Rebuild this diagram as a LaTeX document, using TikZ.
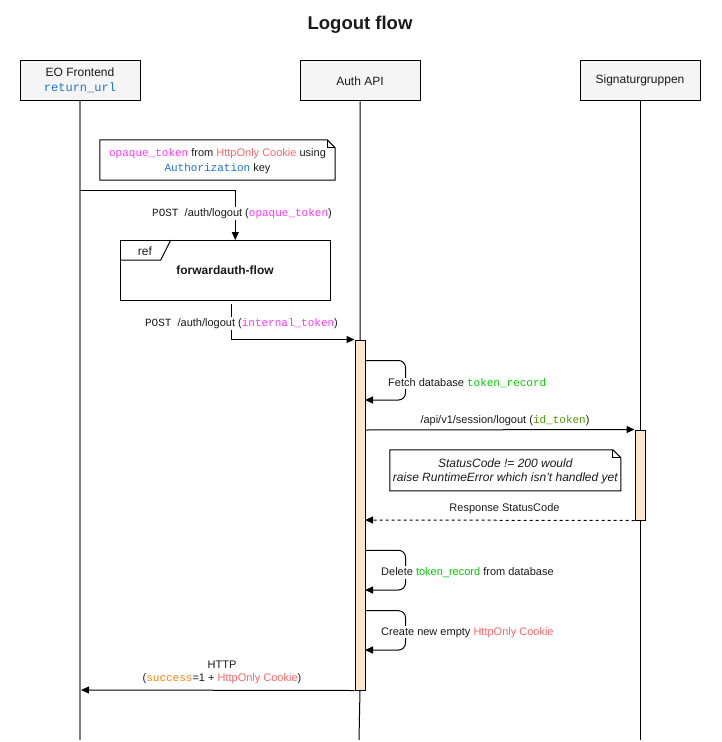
\documentclass[tikz,border=0pt]{standalone}
\usepackage{fontspec}
\setmainfont{Liberation Sans}
\setmonofont{Liberation Mono}
\usetikzlibrary{arrows.meta,calc}
\definecolor{txt}{HTML}{1A1A1A}
\definecolor{cmag}{HTML}{FF33FF}
\definecolor{cred}{HTML}{FF6666}
\definecolor{cblue}{HTML}{1F74D6}
\definecolor{cgreen}{HTML}{00CC00}
\definecolor{colive}{HTML}{4D9900}
\definecolor{corange}{HTML}{FF8000}
\definecolor{partfill}{HTML}{F5F5F5}
\definecolor{actfill}{HTML}{FFE6CC}
\definecolor{lifegrey}{HTML}{808080}
\newcommand\mytt[2]{\textcolor{#1}{\ttfamily #2}}
\newcommand\mycol[2]{\textcolor{#1}{#2}}
\begin{document}
\begin{tikzpicture}[x=1pt,y=-1pt,
  every node/.style={text=txt},
  part/.style={draw=black, fill=partfill, line width=1pt, minimum width=120pt, minimum height=40pt, align=center, inner sep=0pt, font=\fontsize{12}{14.6}\selectfont},
  act/.style={draw=black, fill=actfill, line width=1pt, minimum width=10pt, inner sep=0pt},
  msg/.style={draw=black, line width=1pt, -{Triangle[length=8pt,width=7pt]}},
  lbl/.style={fill=white, inner sep=1pt, align=center, font=\fontsize{11}{13.7}\selectfont},
  notebox/.style={inner sep=0pt, align=center},
  lifeline/.style={draw=black, line width=1pt},
]
\useasboundingbox (0,0) rectangle (721,742);

% title
\node[font=\fontsize{18.5}{22}\selectfont\bfseries] (title) at (360,25) {Logout flow};

% participants
\node[part] (fe) at (80,80.3) {EO Frontend\\\mytt{cblue}{return\_url}};
\node[part] (auth) at (360,80.8) {Auth API};
\node[part] (sig) at (640,80.8) {Signaturgruppen};

% lifelines
\coordinate (feEnd) at (80,740);
\coordinate (authMid) at (360,690);
\coordinate (authEnd) at (359,740);
\coordinate (sigEnd) at (640,740);
\draw[draw=lifegrey, line width=2pt] (fe.south) -- (feEnd);
\draw[lifeline] (auth.south) -- (authMid) -- (authEnd);
\draw[lifeline] (sig.south) -- (sigEnd);

% note 1
\node[notebox, minimum width=235pt, minimum height=40pt, font=\fontsize{11}{15}\selectfont] (n1) at (217.5,160.8)
  {\mytt{cmag}{opaque\_token} from \mycol{cred}{HttpOnly Cookie} using\\\mytt{cblue}{Authorization} key};
\draw[line width=1pt] ($(n1.south west)+(0,-0.8)$) -- ($(n1.south east)+(0,-0.8)$) -- ($(n1.north east)+(0,7.2)$) -- ($(n1.north east)+(-8,-0.8)$) -- ($(n1.north west)+(0,-0.8)$) -- cycle;
\draw[line width=1pt] ($(n1.north east)+(-8,-0.8)$) -- ($(n1.north east)+(-8,7.2)$) -- ($(n1.north east)+(0,7.2)$);

% ref frame
\node[draw=black, line width=1pt, minimum width=210pt, minimum height=60pt, inner sep=0pt, font=\fontsize{12}{14}\selectfont\bfseries] (ref) at (225,270) {\raisebox{-1.5pt}{forwardauth-flow}};
\coordinate (tabA) at (120,260);
\coordinate (tabB) at (160.7,260);
\coordinate (tabC) at (170.7,240);
\draw[line width=1pt] (tabA) -- (tabB) -- (tabC);
\node[font=\fontsize{12}{14}\selectfont] (reflbl) at (145,251.5) {ref};

% message 1
\coordinate (m1s) at (80,190);
\coordinate (m1e) at (235.3,240);
\draw[msg] (m1s) -| (m1e);
\node[lbl] (m1l) at (242,213.5) {{\ttfamily POST}\ \ /auth/logout (\mytt{cmag}{opaque\_token})};

% activation bars
\node[act, minimum height=350pt] (actA) at (360,515) {};
\node[act, minimum height=90pt] (actS) at (640,475) {};

% message 2
\coordinate (m2s) at (231.5,304);
\draw[msg] (m2s) |- (actA.north west);
\node[lbl] (m2l) at (241.5,323.5) {{\ttfamily POST}\ \ /auth/logout (\mytt{cmag}{internal\_token})};

% self loop 1
\coordinate (l1s) at (365,360.5);
\coordinate (l1e) at (365,400);
\draw[msg, rounded corners=7pt] (l1s) -- ++(40.5,0) -- ++(0,39.5) -- (l1e);
\node[lbl, anchor=west] (l1l) at (387,383.2) {Fetch database \mytt{cgreen}{token\_record}};

% message 3
\coordinate (m3s) at (365,430);
\draw[msg] (m3s) -- (actS.north west);
\node[lbl, fill=none] (m3l) at (505,420.5) {/api/v1/session/logout (\mytt{colive}{id\_token})};

% note 2
\node[notebox, minimum width=230.7pt, minimum height=40.7pt, font=\fontsize{12}{13.4}\selectfont\itshape] (n2) at (505.3,471.5)
  {StatusCode != 200 would\\raise RuntimeError which isn't handled yet};
\draw[line width=1pt] ($(n2.south west)+(0,-1.2)$) -- ($(n2.south east)+(0,-1.2)$) -- ($(n2.north east)+(0,6.8)$) -- ($(n2.north east)+(-8,-1.2)$) -- ($(n2.north west)+(0,-1.2)$) -- cycle;
\draw[line width=1pt] ($(n2.north east)+(-8,-1.2)$) -- ($(n2.north east)+(-8,6.8)$) -- ($(n2.north east)+(0,6.8)$);

% message 4 (response)
\coordinate (m4e) at (365,520);
\draw[msg, dash pattern=on 3pt off 3pt] (actS.south west) -- (m4e);
\node[lbl, fill=none] (m4l) at (504.5,508.2) {Response StatusCode};

% self loop 2
\coordinate (l2s) at (365,550.3);
\coordinate (l2e) at (365,590);
\draw[msg, rounded corners=7pt] (l2s) -- ++(40.5,0) -- ++(0,39.7) -- (l2e);
\node[lbl, anchor=west] (l2l) at (380,572.5) {Delete \mycol{cgreen}{token\_record} from database};

% self loop 3
\coordinate (l3s) at (365,610.7);
\coordinate (l3e) at (365,650);
\draw[msg, rounded corners=7pt] (l3s) -- ++(40.5,0) -- ++(0,39.3) -- (l3e);
\node[lbl, anchor=west] (l3l) at (380,632.2) {Create new empty \mycol{cred}{HttpOnly Cookie}};

% message 5 (return)
\coordinate (m5e) at (81,690);
\draw[msg] (actA.south west) -- (m5e);
\node[lbl, fill=none] (m5l) at (222,672.3) {HTTP\\(\mytt{corange}{success}=1 + \mycol{cred}{HttpOnly Cookie})};
\end{tikzpicture}
\end{document}
